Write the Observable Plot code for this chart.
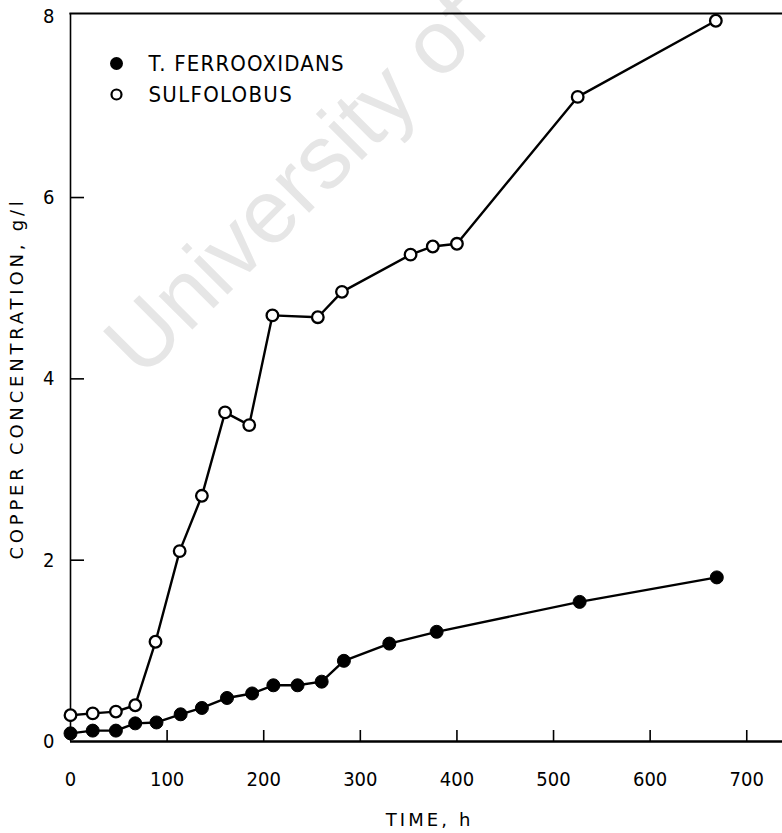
<!DOCTYPE html>
<html><head><meta charset="utf-8">
<script src="https://cdn.jsdelivr.net/npm/d3@7"></script>
<script src="https://cdn.jsdelivr.net/npm/@observablehq/plot@0.6"></script>
<style>
body{margin:0;background:#fff}
#chart{position:relative;width:782px;height:833px;overflow:hidden}
</style>
</head><body><div id="chart"></div>
<script>
// Data
const seriesNames = ["T. FERROOXIDANS", "SULFOLOBUS"];
const timeFerro = [0, 23, 47, 67, 89, 114, 136, 162, 188, 210, 235, 260, 283, 330, 379, 527, 669];
const cuFerro   = [0.09, 0.12, 0.12, 0.20, 0.21, 0.30, 0.37, 0.48, 0.53, 0.62, 0.62, 0.66, 0.89, 1.08, 1.21, 1.54, 1.81];
const timeSulfo = [0, 23, 47, 67, 88, 113, 136, 160, 185, 209, 256, 281, 352, 375, 400, 525, 668];
const cuSulfo   = [0.29, 0.31, 0.33, 0.40, 1.10, 2.10, 2.71, 3.63, 3.49, 4.70, 4.68, 4.96, 5.37, 5.46, 5.49, 7.11, 7.95];
const xTicks = [0, 100, 200, 300, 400, 500, 600, 700];
const yTicks = [0, 2, 4, 6, 8];
const xTitle = "TIME, h";
const yTitle = "COPPER CONCENTRATION, g/l";
const watermark = "University of Cape Town";

const ferro = timeFerro.map((t, i) => ({t, cu: cuFerro[i]}));
const sulfo = timeSulfo.map((t, i) => ({t, cu: cuSulfo[i]}));

const font = "'DejaVu Sans Condensed', 'DejaVu Sans', sans-serif";
const wideFont = "'DejaVu Sans', sans-serif";

const plot = Plot.plot({
  width: 782,
  height: 833,
  marginLeft: 70,
  marginRight: 0,
  marginTop: 13,
  marginBottom: 92,
  x: {domain: [0, 737], axis: null},
  y: {domain: [0, 8.03], axis: null},
  style: {fontFamily: font, color: "#000", background: "#fff", overflow: "visible"},
  marks: [
    Plot.ruleX([0], {stroke: "#000", strokeWidth: 1.6}),
    Plot.ruleY([0], {stroke: "#000", strokeWidth: 2.3}),
    Plot.frame({anchor: "top", stroke: "#000", strokeWidth: 2.2}),
    Plot.axisY(yTicks.filter(d => d > 0 && d < 8), {anchor: "right", frameAnchor: "left", tickSize: 13, strokeWidth: 1.6, fill: "none", label: null}),
    Plot.axisX(xTicks.filter(d => d > 0), {anchor: "top", frameAnchor: "bottom", tickSize: 12, strokeWidth: 1.6, fill: "none", label: null}),
    Plot.axisY(yTicks, {anchor: "left", tickSize: 0, tickPadding: 16, fontSize: 20, tickFormat: d => String(d), label: null}),
    Plot.axisX(xTicks, {anchor: "bottom", tickSize: 0, tickPadding: 30, fontSize: 20, tickFormat: d => String(d), label: null}),
    Plot.text([yTitle], {frameAnchor: "left", textAnchor: "middle", lineAnchor: "middle", rotate: -90, dx: -53, dy: 1, fontSize: 18, fontFamily: wideFont, text: d => d}),
    Plot.text([xTitle], {frameAnchor: "bottom", textAnchor: "middle", lineAnchor: "middle", dx: 3, dy: 79, fontSize: 18, fontFamily: wideFont, text: d => d}),
    Plot.line(ferro, {x: "t", y: "cu", stroke: "#000", strokeWidth: 2.4}),
    Plot.line(sulfo, {x: "t", y: "cu", stroke: "#000", strokeWidth: 2.4}),
    Plot.dot(ferro, {x: "t", y: "cu", r: 6.5, fill: "#000", stroke: "#000", strokeWidth: 1}),
    Plot.dot(sulfo, {x: "t", y: "cu", r: 5.8, fill: "#fff", stroke: "#000", strokeWidth: 2.3}),
    // legend
    Plot.dot([seriesNames[0]], {frameAnchor: "top-left", dx: 46, dy: 50, r: 6.5, fill: "#000"}),
    Plot.dot([seriesNames[1]], {frameAnchor: "top-left", dx: 46, dy: 81, r: 5, fill: "#fff", stroke: "#000", strokeWidth: 2.2}),
    Plot.text([seriesNames[0]], {frameAnchor: "top-left", dx: 78, dy: 50, textAnchor: "start", lineAnchor: "middle", fontSize: 22, text: d => d}),
    Plot.text([seriesNames[1]], {frameAnchor: "top-left", dx: 78, dy: 81, textAnchor: "start", lineAnchor: "middle", fontSize: 22, text: d => d})
  ]
});

const svg = d3.select(plot);
const spacing = new Map([[yTitle, 3.8], [xTitle, 3.1], [seriesNames[0], 1.2], [seriesNames[1], 1.3]]);
svg.selectAll("text").each(function() {
  const s = spacing.get(this.textContent);
  if (s != null) this.style.letterSpacing = s + "px";
});

// faint watermark under the marks
svg.insert("text", ":first-child")
  .attr("transform", "translate(142,380) rotate(-45)")
  .attr("text-anchor", "start")
  .attr("font-family", "'Liberation Sans', Arial, sans-serif")
  .attr("font-size", 90)
  .attr("fill", "#e6e6e6")
  .text(watermark);
svg.insert("rect", ":first-child").attr("width", 782).attr("height", 833).attr("fill", "#fff");

document.getElementById("chart").appendChild(plot);
</script>
</body></html>
